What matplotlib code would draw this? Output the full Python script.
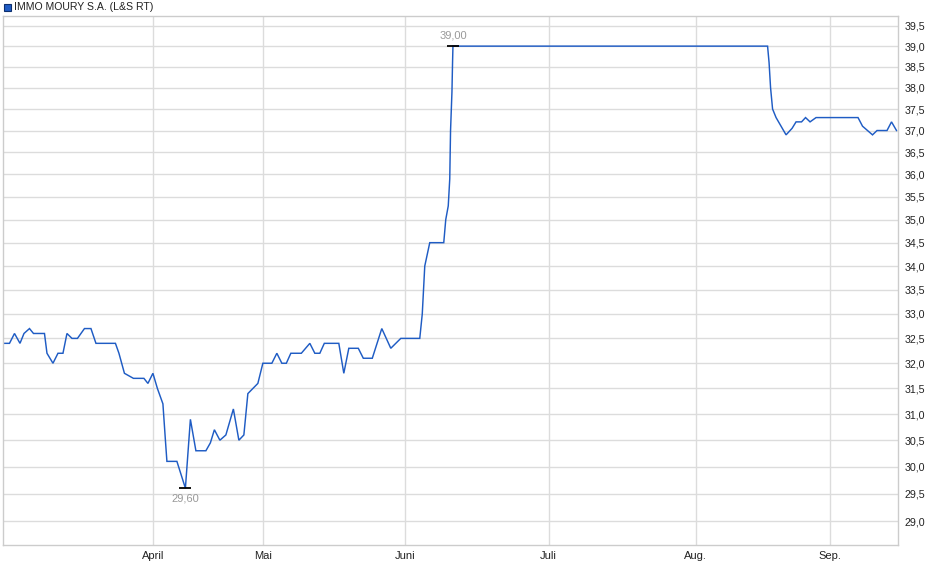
import matplotlib
matplotlib.use("Agg")
import matplotlib.pyplot as plt
from matplotlib.ticker import FixedLocator, FuncFormatter, NullLocator

plt.rcParams['font.family'] = ['Liberation Sans', 'DejaVu Sans']

title = "IMMO MOURY S.A. (L&S RT)"

# time position (chart days) and price
t = [0.8, 1.8, 2.8, 3.9, 4.7, 5.8, 6.6, 8.8, 9.3, 10.5, 11.5, 12.5, 13.3, 14.3,
     15.4, 16.8, 18.1, 19.1, 23.0, 23.7, 24.8, 26.6, 28.7, 29.5, 30.5, 31.4,
     32.5, 33.0, 33.3, 35.3, 37.0, 38.0, 39.1, 41.1, 42.0, 42.8, 43.9, 45.1,
     46.6, 47.7, 48.7, 49.5, 51.5, 52.5, 54.3, 55.3, 56.3, 57.2, 58.1, 60.2,
     61.9, 62.9, 63.9, 64.8, 67.7, 68.7, 69.7, 71.6, 72.6, 74.4, 76.3, 78.1,
     80.1, 83.9, 84.4, 84.9, 85.9, 88.7, 89.1, 89.6, 89.9, 90.06, 90.34, 90.46,
     90.54, 153.5, 153.8, 154.1, 154.5, 155.2, 157.2, 158.4, 159.2, 160.3,
     161.1, 162.0, 163.2, 171.6, 172.5, 174.5, 175.4, 177.4, 178.3, 179.3]
price = [32.4, 32.4, 32.6, 32.4, 32.6, 32.7, 32.6, 32.6, 32.2, 32.0, 32.2, 32.2,
         32.6, 32.5, 32.5, 32.7, 32.7, 32.4, 32.4, 32.2, 31.8, 31.7, 31.7, 31.6,
         31.8, 31.5, 31.2, 30.5, 30.1, 30.1, 29.6, 30.9, 30.3, 30.3, 30.45, 30.7,
         30.5, 30.6, 31.1, 30.5, 30.6, 31.4, 31.6, 32.0, 32.0, 32.2, 32.0, 32.0,
         32.2, 32.2, 32.4, 32.2, 32.2, 32.4, 32.4, 31.8, 32.3, 32.3, 32.1, 32.1,
         32.7, 32.3, 32.5, 32.5, 33.0, 34.0, 34.5, 34.5, 35.0, 35.3, 35.9, 37.0,
         37.9, 38.6, 39.0, 39.0, 38.6, 38.0, 37.5, 37.3, 36.9, 37.05, 37.2, 37.2,
         37.3, 37.2, 37.3, 37.3, 37.1, 36.9, 37.0, 37.0, 37.2, 37.0]

month_pos = [30.5, 52.5, 81.0, 109.7, 139.1, 165.9]
month_labels = ["April", "Mai", "Juni", "Juli", "Aug.", "Sep."]
y_ticks = [29.0, 29.5, 30.0, 30.5, 31.0, 31.5, 32.0, 32.5, 33.0, 33.5, 34.0,
           34.5, 35.0, 35.5, 36.0, 36.5, 37.0, 37.5, 38.0, 38.5, 39.0, 39.5]

W, H = 940, 579
fig = plt.figure(figsize=(W / 100, H / 100), dpi=100)
ax = fig.add_axes([3 / W, 1 - 545 / H, (898 - 3) / W, (545 - 16) / H])

ax.set_yscale('log')
ax.set_ylim(28.57, 39.74)
ax.set_xlim(0.5, 179.6)

ax.yaxis.set_major_locator(FixedLocator(y_ticks))
ax.yaxis.set_minor_locator(NullLocator())
ax.yaxis.set_major_formatter(FuncFormatter(lambda v, p: f"{v:.1f}".replace('.', ',')))
ax.yaxis.tick_right()
ax.set_xticks(month_pos)
ax.set_xticklabels(month_labels)
ax.xaxis.set_minor_locator(NullLocator())

ax.tick_params(axis='both', length=0, colors='#222222')
ax.tick_params(axis='y', pad=5, labelsize=7.7)
ax.tick_params(axis='x', pad=4, labelsize=8)

ax.grid(True, color='#dcdcdc', linewidth=1.0)
ax.set_axisbelow(True)
for s in ax.spines.values():
    s.set_color('#cccccc')
    s.set_linewidth(1.0)

ax.plot(t, price, color='#1f5cc4', linewidth=1.05, solid_joinstyle='miter')

# high / low markers
imax = price.index(max(price))
imin = price.index(min(price))
for i, off, va in [(imax, 4, 'bottom'), (imin, -4, 'top')]:
    ax.plot([t[i]], [price[i]], marker='_', markersize=9, markeredgewidth=1.3,
            color='black')
    ax.annotate(f"{price[i]:.2f}".replace('.', ','), (t[i], price[i]),
                xytext=(0, off), textcoords='offset points', ha='center',
                va=va, fontsize=8, color='#999999')

# legend-like title
fig.patches.append(matplotlib.patches.Rectangle((4 / W, 1 - 11 / H), 7 / W, 7 / H,
                   transform=fig.transFigure, facecolor='#1f5cc4',
                   edgecolor='#0d2f6e', linewidth=0.8))
fig.text(14 / W, 1 - 7 / H, title, fontsize=7.6, color='#222222', va='center',
         ha='left')

fig.savefig("out.png", dpi=100, facecolor='white')
